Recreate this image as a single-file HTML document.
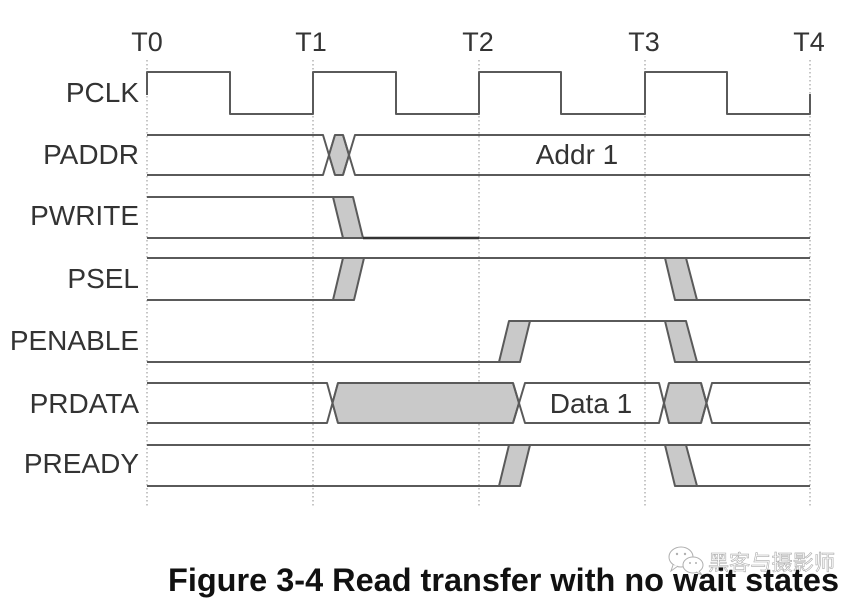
<!DOCTYPE html>
<html>
<head>
<meta charset="utf-8">
<style>
  html, body { margin:0; padding:0; background:#fff; }
  body { width:862px; height:599px; overflow:hidden; }
  svg { display:block; }
</style>
</head>
<body>
<svg width="862" height="599" viewBox="0 0 862 599" xmlns="http://www.w3.org/2000/svg">
  <rect x="0" y="0" width="862" height="599" fill="#fff"/>

  <!-- dotted time markers -->
  <g stroke="#a8a8a8" stroke-width="1.3" stroke-dasharray="1.5 2.5" fill="none">
    <line x1="147" y1="60" x2="147" y2="506"/>
    <line x1="313" y1="60" x2="313" y2="506"/>
    <line x1="479" y1="60" x2="479" y2="506"/>
    <line x1="645" y1="60" x2="645" y2="506"/>
    <line x1="810" y1="60" x2="810" y2="506"/>
  </g>

  <!-- T labels -->
  <g font-family="Liberation Sans, Arial, sans-serif" font-size="27" fill="#333" text-anchor="middle">
    <text x="147" y="51">T0</text>
    <text x="311" y="51">T1</text>
    <text x="478" y="51">T2</text>
    <text x="644" y="51">T3</text>
    <text x="809" y="51">T4</text>
  </g>

  <!-- signal labels -->
  <g font-family="Liberation Sans, Arial, sans-serif" font-size="28" fill="#333" text-anchor="end">
    <text x="139" y="102">PCLK</text>
    <text x="139" y="164">PADDR</text>
    <text x="139" y="225">PWRITE</text>
    <text x="139" y="288">PSEL</text>
    <text x="139" y="350">PENABLE</text>
    <text x="139" y="413">PRDATA</text>
    <text x="139" y="473">PREADY</text>
  </g>

  <g stroke="#5a5a5a" stroke-width="2" fill="none" stroke-linejoin="round">
    <!-- PCLK -->
    <path d="M147,95 V72 H230 V114 H313 V72 H396 V114 H479 V72 H561 V114 H645 V72 H727 V114 H810 V94"/>

    <!-- PADDR -->
    <path d="M147,135 H323 L335,175"/>
    <path d="M147,175 H323 L335,135"/>
    <polygon points="335,135 343,135 349,155 343,175 335,175 329,155" fill="#c9c9c9"/>
    <path d="M343,135 L355,175 H810"/>
    <path d="M343,175 L355,135 H810"/>

    <!-- PWRITE -->
    <path d="M147,197 H353"/>
    <path d="M147,238 H810"/>
    <polygon points="333,197 353,197 363,238 343,238" fill="#c9c9c9"/>

    <!-- PSEL -->
    <path d="M147,258 H810"/>
    <path d="M147,300 H333"/>
    <path d="M697,300 H810"/>
    <polygon points="333,300 354,300 364,258 343,258" fill="#c9c9c9"/>
    <polygon points="665,258 686,258 697,300 675,300" fill="#c9c9c9"/>

    <!-- PENABLE -->
    <path d="M147,362 H499"/>
    <path d="M697,362 H810"/>
    <path d="M530,321 H665"/>
    <polygon points="499,362 520,362 530,321 509,321" fill="#c9c9c9"/>
    <polygon points="665,321 686,321 697,362 675,362" fill="#c9c9c9"/>

    <!-- PRDATA -->
    <path d="M147,383 H327 L338,423"/>
    <path d="M147,423 H327 L338,383"/>
    <polygon points="332.5,403 338,383 513,383 519,403 513,423 338,423" fill="#c9c9c9"/>
    <path d="M513,383 L525,423 H659 L669,383"/>
    <path d="M513,423 L525,383 H659 L669,423"/>
    <polygon points="664,403 669,383 701,383 706.5,403 701,423 669,423" fill="#c9c9c9"/>
    <path d="M701,383 L712,423 H810"/>
    <path d="M701,423 L712,383 H810"/>

    <!-- PREADY -->
    <path d="M147,445 H810"/>
    <path d="M147,486 H499"/>
    <path d="M697,486 H810"/>
    <polygon points="499,486 520,486 530,445 509,445" fill="#c9c9c9"/>
    <polygon points="665,445 686,445 697,486 675,486" fill="#c9c9c9"/>
  </g>
  <!-- darker PWRITE low segment -->
  <line x1="363" y1="238" x2="479" y2="238" stroke="#333" stroke-width="2.4"/>

  <!-- bus labels -->
  <g font-family="Liberation Sans, Arial, sans-serif" font-size="28" fill="#333" text-anchor="middle">
    <text x="577" y="164">Addr 1</text>
    <text x="591" y="413">Data 1</text>
  </g>

  <!-- watermark -->
  <g stroke="#b0b0b0" stroke-width="1" fill="#fff">
    <ellipse cx="681" cy="557" rx="12" ry="10"/>
    <path d="M673,565 L671,571 L678,566" />
    <ellipse cx="693" cy="565" rx="10" ry="8"/>
    <path d="M699,571 L702,575 L696,572"/>
  </g>
  <g fill="#b0b0b0">
    <circle cx="677" cy="554" r="1.2"/>
    <circle cx="685" cy="554" r="1.2"/>
    <circle cx="690" cy="563" r="1"/>
    <circle cx="696" cy="563" r="1"/>
  </g>
  <text x="708" y="570" font-family="Liberation Sans, Noto Sans CJK SC, sans-serif" font-size="21" fill="#fff" stroke="#aaa" stroke-width="0.6" textLength="127" lengthAdjust="spacingAndGlyphs">黑客与摄影师</text>

  <!-- caption -->
  <text x="168" y="591" font-family="Liberation Sans, Arial, sans-serif" font-weight="bold" font-size="32" fill="#111" textLength="671" lengthAdjust="spacingAndGlyphs">Figure 3-4 Read transfer with no wait states</text>
</svg>
</body>
</html>
